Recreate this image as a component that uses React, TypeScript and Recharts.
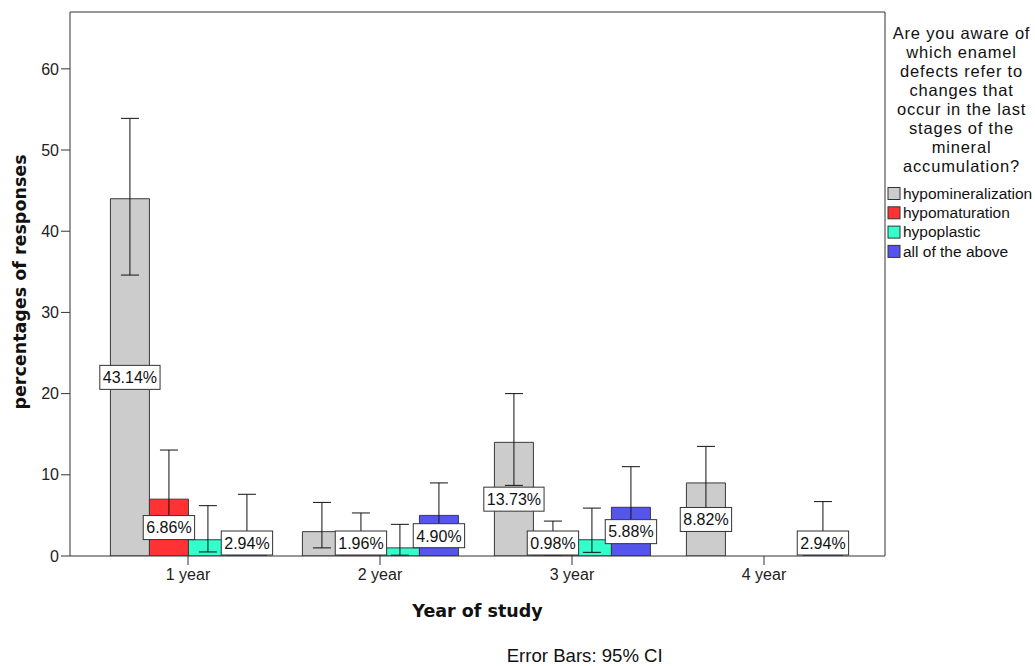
import React from 'react';
import { BarChart, Bar, XAxis, YAxis, ErrorBar, LabelList } from 'recharts';

const categories = ['1 year', '2 year', '3 year', '4 year'];
const seriesNames = ['hypomineralization', 'hypomaturation', 'hypoplastic', 'all of the above'];
const seriesColors = ['#cccccc', '#ff3333', '#33ffcc', '#5555ee'];
const yTicks = [0, 10, 20, 30, 40, 50, 60];

const hypomineralization = [44, 3, 14, 9];
const hypomaturation = [7, 2, 1, 0];
const hypoplastic = [2, 1, 2, 0];
const allOfTheAbove = [3, 5, 6, 3];

const hypomineralizationCI = [[34.6, 53.9], [1.0, 6.6], [8.7, 20.0], [5.0, 13.5]];
const hypomaturationCI = [[2.9, 13.05], [0.4, 5.3], [0.1, 4.3], null];
const hypoplasticCI = [[0.5, 6.2], [0.1, 3.9], [0.45, 5.9], null];
const allOfTheAboveCI = [[1.0, 7.6], [1.7, 9.0], [2.6, 11.0], [1.2, 6.7]];

const hypomineralizationLabels = ['43.14%', '', '13.73%', '8.82%'];
const hypomaturationLabels = ['6.86%', '1.96%', '0.98%', ''];
const hypoplasticLabels = ['', '', '', ''];
const allOfTheAboveLabels = ['2.94%', '4.90%', '5.88%', '2.94%'];

const legendTitleLines = [
  'Are you aware of',
  'which enamel',
  'defects refer to',
  'changes that',
  'occur in the last',
  'stages of the',
  'mineral',
  'accumulation?',
];

const xTitle = 'Year of study';
const yTitle = 'percentages of responses';
const footNote = 'Error Bars: 95% CI';

const seriesValues = [hypomineralization, hypomaturation, hypoplastic, allOfTheAbove];
const seriesCI: (number[] | null)[][] = [hypomineralizationCI, hypomaturationCI, hypoplasticCI, allOfTheAboveCI];
const seriesLabels = [hypomineralizationLabels, hypomaturationLabels, hypoplasticLabels, allOfTheAboveLabels];

const data = categories.map((name, i) => {
  const row: any = { name };
  seriesValues.forEach((vals, s) => {
    const v = vals[i];
    row['v' + s] = v;
    const ci = seriesCI[s][i];
    row['e' + s] = ci ? [v - ci[0], ci[1] - v] : null;
    row['l' + s] = seriesLabels[s][i];
  });
  return row;
});

const SANS = '"Liberation Sans", Arial, sans-serif';
const BOLD = '"DejaVu Sans", Verdana, sans-serif';

const charW: Record<string, number> = {
  '0': 0.556, '1': 0.556, '2': 0.556, '3': 0.556, '4': 0.556, '5': 0.556,
  '6': 0.556, '7': 0.556, '8': 0.556, '9': 0.556, '.': 0.278, '%': 0.889,
};
const textWidth = (t: string, fs: number) =>
  t.split('').reduce((a, c) => a + (charW[c] ?? 0.556), 0) * fs;

const renderBoxLabel = (props: any) => {
  const vb = props.viewBox && props.viewBox.width != null ? props.viewBox : props;
  const value = props.value;
  if (!value) return null;
  const x = Number(vb.x);
  const y = Number(vb.y);
  const w = Number(vb.width);
  const h = Number(vb.height);
  const text = String(value);
  const fs = 16;
  const bw = textWidth(text, fs) + 6;
  const bh = 24;
  const cx = x + w / 2;
  const bottom = y + h;
  const cy = Math.min(y + h / 2, bottom - 1 - bh / 2);
  return (
    <g>
      <rect x={cx - bw / 2} y={cy - bh / 2} width={bw} height={bh} fill="#ffffff" stroke="#333333" strokeWidth={1} />
      <text x={cx} y={cy + 5.8} textAnchor="middle" fontFamily={SANS} fontSize={fs} fill="#111111">
        {text}
      </text>
    </g>
  );
};

const W = 1035;
const H = 666;
const xPad = { left: 22, right: 25 };
const yDomain = [0, 67];

export default function App() {
  return (
    <div style={{ position: 'absolute', left: 0, top: 0, width: W, height: H, background: '#ffffff' }}>
      <BarChart
        width={W}
        height={H}
        data={data}
        margin={{ top: 11, right: 149, bottom: 70, left: 0 }}
        barCategoryGap="9.6%"
        barGap={0}
      >
        <XAxis
          dataKey="name"
          height={40}
          padding={xPad}
          axisLine={{ stroke: '#333333' }}
          tickLine={{ stroke: '#333333' }}
          tickSize={9}
          tickMargin={4}
          tick={{ fontFamily: SANS, fontSize: 16, fill: '#222222' }}
        />
        <XAxis xAxisId="lbl" dataKey="name" padding={xPad} hide />
        <XAxis xAxisId="err" dataKey="name" padding={xPad} hide />
        <XAxis
          xAxisId="top"
          dataKey="name"
          orientation="top"
          height={1}
          padding={xPad}
          tick={false}
          tickLine={false}
          axisLine={{ stroke: '#333333' }}
        />
        <YAxis
          width={70}
          domain={yDomain}
          ticks={yTicks}
          allowDataOverflow
          axisLine={{ stroke: '#333333' }}
          tickLine={{ stroke: '#333333' }}
          tickSize={9}
          tickMargin={2}
          tick={{ fontFamily: SANS, fontSize: 16, fill: '#222222' }}
        />
        <YAxis
          yAxisId="right"
          orientation="right"
          width={1}
          domain={yDomain}
          tick={false}
          tickLine={false}
          axisLine={{ stroke: '#333333' }}
        />
        {seriesNames.map((n, s) => (
          <Bar
            key={'b' + s}
            dataKey={'v' + s}
            name={n}
            fill={seriesColors[s]}
            stroke="#3a3a3a"
            strokeWidth={1}
            isAnimationActive={false}
          />
        ))}
        {seriesNames.map((n, s) => (
          <Bar
            key={'l' + s}
            xAxisId="lbl"
            dataKey={'v' + s}
            fill="transparent"
            stroke="none"
            isAnimationActive={false}
            legendType="none"
          >
            <LabelList dataKey={'l' + s} content={renderBoxLabel} />
          </Bar>
        ))}
        {seriesNames.map((n, s) => (
          <Bar
            key={'e' + s}
            xAxisId="err"
            dataKey={'v' + s}
            fill="transparent"
            stroke="none"
            isAnimationActive={false}
            legendType="none"
          >
            <ErrorBar dataKey={'e' + s} width={9} stroke="#111111" strokeWidth={1} direction="y" />
          </Bar>
        ))}
      </BarChart>
      <svg
        width={W}
        height={H}
        style={{ position: 'absolute', left: 0, top: 0, pointerEvents: 'none' }}
      >
        <text
          transform="translate(26,282) rotate(-90)"
          textAnchor="middle"
          fontFamily={BOLD}
          fontWeight="bold"
          fontSize={17.5}
          fill="#111111"
        >
          {yTitle}
        </text>
        <text x={477.5} y={617} textAnchor="middle" fontFamily={BOLD} fontWeight="bold" fontSize={17.5} fill="#111111">
          {xTitle}
        </text>
        <text x={584.7} y={661.5} textAnchor="middle" fontFamily={SANS} fontSize={18.6} fill="#111111">
          {footNote}
        </text>
        {legendTitleLines.map((t, i) => (
          <text
            key={'t' + i}
            x={961.5}
            y={39.3 + i * 18.9}
            textAnchor="middle"
            fontFamily={SANS}
            fontSize={16.5}
            letterSpacing={0.8}
            fill="#111111"
          >
            {t}
          </text>
        ))}
        {seriesNames.map((n, s) => (
          <g key={'lg' + s}>
            <rect x={888} y={187.5 + s * 19.3} width={12} height={12} fill={seriesColors[s]} stroke="#333333" strokeWidth={1} />
            <text x={903} y={198.7 + s * 19.3} fontFamily={SANS} fontSize={15.5} fill="#111111">
              {n}
            </text>
          </g>
        ))}
      </svg>
    </div>
  );
}
